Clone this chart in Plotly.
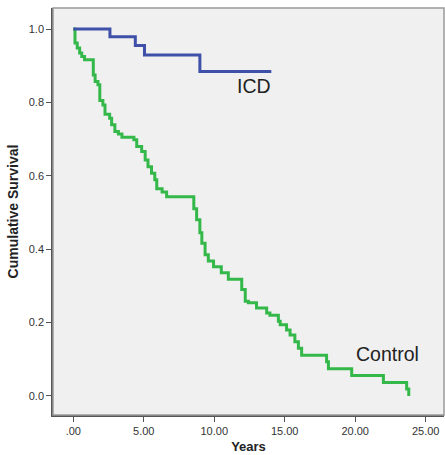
import plotly.graph_objects as go

# ICD group (Kaplan-Meier step points)
icd_years = [0, 2.6, 4.4, 5.05, 8.98, 14.05]
icd_surv = [1.0, 0.979, 0.955, 0.929, 0.884, 0.884]

# Control group
ctrl_years = [0, 0.12, 0.28, 0.45, 0.6, 0.8, 1.42, 1.55, 1.75, 1.88, 2.1, 2.25, 2.58, 2.72,
              2.95, 3.2, 3.45, 4.3, 4.5, 4.85, 5.1, 5.3, 5.55, 5.78, 5.92, 6.3, 6.62, 8.55,
              8.75, 8.98, 9.12, 9.35, 9.58, 9.95, 10.5, 11.0, 11.95, 12.2, 12.42, 13.0, 13.72,
              13.95, 14.55, 14.68, 15.13, 15.38, 15.72, 15.97, 16.2, 17.97, 18.1, 19.75, 22.0,
              23.65, 23.8]
ctrl_surv = [1.0, 0.962, 0.948, 0.935, 0.925, 0.916, 0.875, 0.857, 0.848, 0.805, 0.793, 0.768,
             0.757, 0.739, 0.721, 0.714, 0.705, 0.698, 0.68, 0.666, 0.643, 0.625, 0.607, 0.589,
             0.565, 0.556, 0.543, 0.51, 0.48, 0.445, 0.416, 0.385, 0.368, 0.352, 0.336, 0.318,
             0.29, 0.258, 0.254, 0.24, 0.226, 0.22, 0.204, 0.194, 0.18, 0.166, 0.148, 0.13,
             0.111, 0.093, 0.074, 0.056, 0.037, 0.019, 0.0]

x_ticks = [0, 5, 10, 15, 20, 25]
x_tick_labels = [".00", "5.00", "10.00", "15.00", "20.00", "25.00"]
y_ticks = [0.0, 0.2, 0.4, 0.6, 0.8, 1.0]
y_tick_labels = ["0.0", "0.2", "0.4", "0.6", "0.8", "1.0"]

fig = go.Figure()
fig.add_trace(go.Scatter(x=ctrl_years, y=ctrl_surv, mode="lines", line_shape="hv",
                         line=dict(color="#34b84a", width=3), name="Control"))
fig.add_trace(go.Scatter(x=icd_years, y=icd_surv, mode="lines", line_shape="hv",
                         line=dict(color="#3e50a8", width=3), name="ICD"))

fig.add_annotation(x=12.8, y=0.845, text="ICD", showarrow=False,
                   font=dict(family="Liberation Sans, Arial", size=19.5, color="#222"))
fig.add_annotation(x=22.3, y=0.1145, text="Control", showarrow=False,
                   font=dict(family="Liberation Sans, Arial", size=19.5, color="#222"))

# light frame on top/right
fig.add_shape(type="rect", xref="paper", yref="paper", x0=0, y0=0, x1=1, y1=1,
              line=dict(color="#999", width=1.5), layer="above")

fig.update_layout(
    width=445, height=455,
    margin=dict(l=53, r=1, t=8, b=40),
    paper_bgcolor="white",
    plot_bgcolor="#f0f0f0",
    showlegend=False,
    font=dict(family="Liberation Sans, Arial", size=11, color="#333"),
    xaxis=dict(range=[-1.44, 26.3], tickvals=x_ticks, ticktext=x_tick_labels,
               showgrid=False, zeroline=False, showline=True, linecolor="#555", linewidth=1.5,
               ticks="outside", ticklen=5, tickcolor="#555",
               title=dict(text="<b>Years</b>", font=dict(size=13, color="#222"), standoff=6)),
    yaxis=dict(range=[-0.0518, 1.0573], tickvals=y_ticks, ticktext=y_tick_labels,
               showgrid=False, zeroline=False, showline=True, linecolor="#555", linewidth=1.5,
               ticks="outside", ticklen=5, tickcolor="#555",
               title=dict(text="<b>Cumulative Survival</b>", font=dict(size=14, color="#222"), standoff=7)),
)

fig.write_html("out.html")
